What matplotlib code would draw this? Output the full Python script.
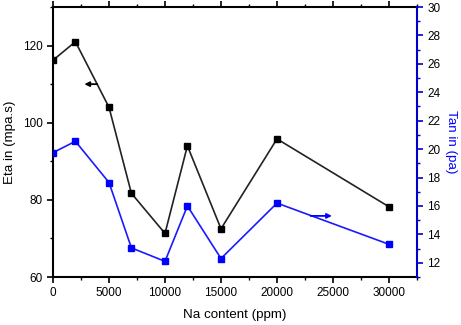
import matplotlib
matplotlib.use("Agg")
import matplotlib.pyplot as plt
from matplotlib.ticker import MultipleLocator

plt.rcParams['font.family'] = ['Liberation Sans', 'DejaVu Sans']

na_content = [0, 2000, 5000, 7000, 10000, 12000, 15000, 20000, 30000]
eta = [116.2, 121.0, 104.0, 81.7, 71.3, 94.0, 72.5, 95.8, 78.2]
tan = [19.75, 20.55, 17.65, 13.05, 12.1, 16.0, 12.3, 16.2, 13.3]

fig = plt.figure(figsize=(4.61, 3.25), dpi=100)
ax = fig.add_axes([53/461, 48/325, (417-53)/461, (277-7)/325])
ax2 = ax.twinx()

ax.plot(na_content, eta, color='#222222', lw=1.2, marker='s', ms=4.5,
        markerfacecolor='black', markeredgecolor='black', zorder=3)
ax2.plot(na_content, tan, color='#1a1aff', lw=1.2, marker='s', ms=4.5,
         markerfacecolor='#0000ff', markeredgecolor='#0000ff', zorder=3)

ax.set_xlim(0, 32500)
ax.set_ylim(60, 130)
ax2.set_ylim(11, 30)

ax.xaxis.set_major_locator(MultipleLocator(5000))
ax.xaxis.set_minor_locator(MultipleLocator(2500))
ax.yaxis.set_major_locator(MultipleLocator(20))
ax.yaxis.set_minor_locator(MultipleLocator(10))
ax2.yaxis.set_minor_locator(MultipleLocator(1))
ax2.set_yticks(range(12, 31, 2))

fs = 8.5
lfs = 9.6
ax.tick_params(axis='both', which='major', direction='out', length=4, width=1.2, labelsize=fs)
ax.tick_params(axis='both', which='minor', direction='out', length=2.5, width=1.0)
ax.tick_params(axis='x', which='both', top=True)
ax2.tick_params(axis='y', which='major', direction='out', length=4, width=1.2,
                colors='#0000cc', labelsize=fs, labelcolor='black')
ax2.tick_params(axis='y', which='minor', direction='out', length=2.5, width=1.0, colors='#0000cc')

for s in ['left', 'bottom', 'top']:
    ax.spines[s].set_linewidth(1.5)
ax2.spines['right'].set_color('#0000cc')
ax2.spines['right'].set_linewidth(1.5)
for s in ['left', 'bottom', 'top']:
    ax2.spines[s].set_visible(False)
ax.spines['right'].set_visible(False)

ax.set_xlabel('Na content (ppm)', fontsize=lfs, labelpad=7)
ax.set_ylabel('Eta in (mpa.s)', fontsize=lfs, labelpad=5)
ax2.set_ylabel('Tan in (pa)', fontsize=lfs, color='#0000ff', rotation=270, labelpad=12)

ax.annotate('', xy=(2800, 110.0), xytext=(3950, 110.0),
            arrowprops=dict(arrowstyle='-|>', color='black', lw=1.3, mutation_scale=7,
                            shrinkA=0, shrinkB=0))
ax2.annotate('', xy=(24900, 15.3), xytext=(23000, 15.3),
             arrowprops=dict(arrowstyle='-|>', color='#0000ff', lw=1.3, mutation_scale=7,
                             shrinkA=0, shrinkB=0))

fig.savefig('out.png', dpi=100)
